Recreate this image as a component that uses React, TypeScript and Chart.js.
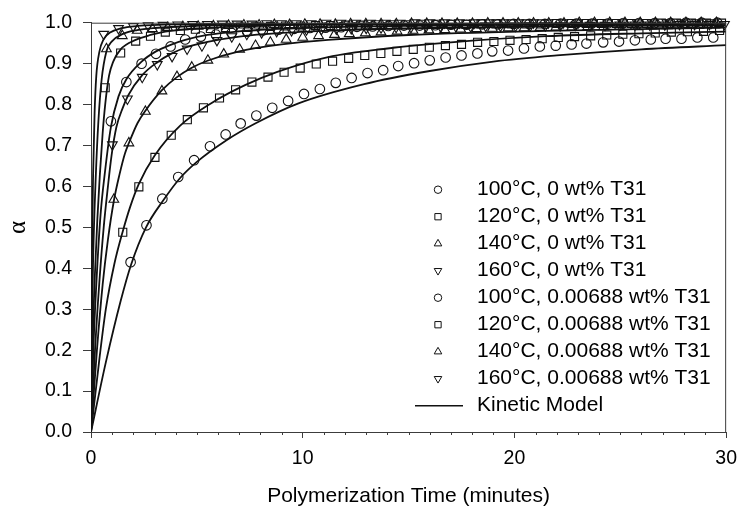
import React, { useEffect, useRef } from "react";
import { Chart, registerables } from "chart.js";

Chart.register(...registerables);

// ---------- labels ----------
const SERIES_LABELS = [
  "100°C, 0 wt% T31",
  "120°C, 0 wt% T31",
  "140°C, 0 wt% T31",
  "160°C, 0 wt% T31",
  "100°C, 0.00688 wt% T31",
  "120°C, 0.00688 wt% T31",
  "140°C, 0.00688 wt% T31",
  "160°C, 0.00688 wt% T31",
];
const MODEL_LABEL = "Kinetic Model";
const X_TITLE = "Polymerization Time (minutes)";
const Y_TITLE = "α";
const X_MINOR_TICKS = [1, 2, 3, 4, 5, 6, 7, 8, 9, 11, 12, 13, 14, 15, 16, 17, 18, 19, 21, 22, 23, 24, 25, 26, 27, 28, 29];

// ---------- experimental data (time in minutes, conversion alpha) ----------
const T_100_0 = [1.87, 2.62, 3.37, 4.12, 4.87, 5.62, 6.36, 7.07, 7.81, 8.56, 9.31, 10.06, 10.81, 11.56, 12.31, 13.06, 13.8, 14.51, 15.26, 16.0, 16.75, 17.5, 18.25, 18.95, 19.7, 20.45, 21.2, 21.95, 22.7, 23.4, 24.19, 24.94, 25.69, 26.44, 27.14, 27.89, 28.64, 29.39];
const A_100_0 = [0.415, 0.505, 0.57, 0.623, 0.664, 0.698, 0.727, 0.754, 0.773, 0.792, 0.809, 0.826, 0.838, 0.853, 0.865, 0.877, 0.884, 0.894, 0.901, 0.908, 0.915, 0.92, 0.925, 0.93, 0.932, 0.937, 0.942, 0.944, 0.947, 0.949, 0.952, 0.954, 0.957, 0.959, 0.961, 0.961, 0.964, 0.964];

const T_120_0 = [1.5, 2.26, 3.02, 3.79, 4.55, 5.31, 6.07, 6.83, 7.6, 8.36, 9.12, 9.88, 10.64, 11.41, 12.17, 12.93, 13.69, 14.45, 15.22, 15.98, 16.74, 17.5, 18.26, 19.03, 19.79, 20.55, 21.31, 22.07, 22.84, 23.6, 24.36, 25.12, 25.88, 26.65, 27.41, 28.17, 28.93, 29.69];
const A_120_0 = [0.488, 0.599, 0.671, 0.725, 0.763, 0.792, 0.816, 0.836, 0.855, 0.867, 0.879, 0.889, 0.899, 0.906, 0.913, 0.92, 0.925, 0.93, 0.935, 0.94, 0.944, 0.947, 0.952, 0.954, 0.957, 0.959, 0.961, 0.964, 0.966, 0.968, 0.97, 0.972, 0.973, 0.975, 0.977, 0.978, 0.979, 0.981];

const T_140_0 = [1.08, 1.79, 2.57, 3.35, 4.06, 4.76, 5.52, 6.27, 7.02, 7.77, 8.47, 9.22, 10.0, 10.75, 11.5, 12.2, 12.96, 13.7, 14.46, 15.21, 15.96, 16.71, 17.46, 18.21, 18.96, 19.71, 20.46, 21.21, 21.96, 22.71, 23.46, 24.21, 24.96, 25.71, 26.46, 27.21, 27.96, 28.71, 29.46];
const A_140_0 = [0.568, 0.706, 0.783, 0.833, 0.868, 0.891, 0.908, 0.923, 0.935, 0.944, 0.952, 0.959, 0.964, 0.968, 0.971, 0.973, 0.975, 0.977, 0.979, 0.981, 0.982, 0.983, 0.984, 0.985, 0.986, 0.987, 0.987, 0.988, 0.989, 0.989, 0.99, 0.99, 0.991, 0.991, 0.992, 0.992, 0.993, 0.993, 0.994];

const T_160_0 = [1.01, 1.72, 2.42, 3.13, 3.83, 4.54, 5.24, 5.95, 6.65, 7.36, 8.06, 8.77, 9.47, 10.18, 10.88, 11.59, 12.29, 13.0, 13.7, 14.41, 15.11, 15.82, 16.52, 17.23, 17.93, 18.64, 19.34, 20.05, 20.75, 21.46, 22.16, 22.87, 23.57, 24.28, 24.98, 25.69, 26.39, 27.1, 27.8, 28.51, 29.21, 29.92];
const A_160_0 = [0.702, 0.814, 0.867, 0.898, 0.918, 0.936, 0.944, 0.957, 0.966, 0.972, 0.976, 0.979, 0.981, 0.983, 0.984, 0.985, 0.986, 0.987, 0.988, 0.989, 0.989, 0.99, 0.99, 0.991, 0.991, 0.992, 0.992, 0.992, 0.993, 0.993, 0.993, 0.994, 0.994, 0.994, 0.995, 0.995, 0.995, 0.995, 0.996, 0.996, 0.996, 0.996];

const T_100_T31 = [0.94, 1.67, 2.39, 3.07, 3.76, 4.45, 5.19, 5.9, 6.64, 7.38, 8.12, 8.86, 9.6, 10.34, 11.08, 11.82, 12.56, 13.3, 14.04, 14.78, 15.52, 16.26, 17.0, 17.74, 18.48, 19.22, 19.96, 20.7, 21.44, 22.18, 22.92, 23.66, 24.4, 25.14, 25.88, 26.62, 27.36, 28.1, 28.84, 29.58];
const A_100_T31 = [0.759, 0.855, 0.9, 0.924, 0.942, 0.959, 0.966, 0.971, 0.975, 0.978, 0.981, 0.983, 0.985, 0.987, 0.988, 0.989, 0.99, 0.991, 0.992, 0.993, 0.993, 0.994, 0.995, 0.995, 0.996, 0.996, 0.997, 0.997, 0.997, 0.998, 0.998, 0.998, 0.998, 0.999, 0.999, 0.999, 0.999, 1.0, 1.0, 1.0];

const T_120_T31 = [0.67, 1.4, 2.11, 2.81, 3.51, 4.22, 4.93, 5.64, 6.35, 7.06, 7.77, 8.48, 9.19, 9.9, 10.61, 11.32, 12.03, 12.74, 13.45, 14.16, 14.87, 15.58, 16.29, 17.0, 17.71, 18.42, 19.13, 19.84, 20.55, 21.26, 21.97, 22.68, 23.39, 24.1, 24.81, 25.52, 26.23, 26.94, 27.65, 28.36, 29.07, 29.78];
const A_120_T31 = [0.841, 0.926, 0.955, 0.967, 0.977, 0.981, 0.984, 0.986, 0.988, 0.989, 0.99, 0.991, 0.992, 0.992, 0.993, 0.993, 0.994, 0.994, 0.995, 0.995, 0.995, 0.996, 0.996, 0.996, 0.996, 0.997, 0.997, 0.997, 0.997, 0.997, 0.998, 0.998, 0.998, 0.998, 0.998, 0.998, 0.998, 0.999, 0.999, 0.999, 0.999, 0.999];

const T_140_T31 = [0.73, 1.48, 2.18, 2.9, 3.62, 4.34, 5.06, 5.78, 6.5, 7.22, 7.94, 8.66, 9.38, 10.1, 10.82, 11.54, 12.26, 12.98, 13.7, 14.42, 15.14, 15.86, 16.58, 17.3, 18.02, 18.74, 19.46, 20.18, 20.9, 21.62, 22.34, 23.06, 23.78, 24.5, 25.22, 25.94, 26.66, 27.38, 28.1, 28.82, 29.54];
const A_140_T31 = [0.936, 0.968, 0.981, 0.985, 0.988, 0.99, 0.991, 0.992, 0.993, 0.994, 0.994, 0.995, 0.995, 0.996, 0.996, 0.996, 0.997, 0.997, 0.997, 0.997, 0.998, 0.998, 0.998, 0.998, 0.998, 0.999, 0.999, 0.999, 0.999, 0.999, 0.999, 1.0, 1.0, 1.0, 1.0, 1.0, 1.0, 1.0, 1.0, 1.0, 1.0];

const T_160_T31 = [0.6, 1.3, 2.0, 2.7, 3.4, 4.1, 4.8, 5.5, 6.2, 6.9, 7.6, 8.3, 9.0, 9.7, 10.4, 11.1, 11.8, 12.5, 13.2, 13.9, 14.6, 15.3, 16.0, 16.7, 17.4, 18.1, 18.8, 19.5, 20.2, 20.9, 21.6, 22.3, 23.0, 23.7, 24.4, 25.1, 25.8, 26.5, 27.2, 27.9, 28.6, 29.3];
const A_160_T31 = [0.972, 0.986, 0.991, 0.993, 0.994, 0.995, 0.996, 0.996, 0.997, 0.997, 0.997, 0.998, 0.998, 0.998, 0.998, 0.999, 0.999, 0.999, 0.999, 0.999, 0.999, 1.0, 1.0, 1.0, 1.0, 1.0, 1.0, 1.0, 1.0, 1.0, 1.0, 1.0, 1.0, 1.0, 1.0, 1.0, 1.0, 1.0, 1.0, 1.0, 1.0, 1.0];

// ---------- kinetic model curves ----------
const KM_T_100_0 = [0, 0.7, 1.4, 1.9, 2.6, 3.4, 4.2, 5.0, 6.4, 7.8, 9.8, 12.9, 16, 19, 22, 26, 30];
const KM_A_100_0 = [0, 0.17, 0.32, 0.41, 0.5, 0.565, 0.62, 0.66, 0.713, 0.755, 0.803, 0.85, 0.882, 0.905, 0.92, 0.935, 0.945];

const KM_T_120_0 = [0, 0.4, 0.7, 1.1, 1.5, 1.85, 2.25, 3.0, 4.2, 5.7, 7.3, 8.8, 11.2, 14, 17, 21.5, 26, 30];
const KM_A_120_0 = [0, 0.18, 0.3, 0.41, 0.49, 0.55, 0.605, 0.675, 0.748, 0.804, 0.848, 0.88, 0.916, 0.937, 0.952, 0.967, 0.974, 0.978];

const KM_T_140_0 = [0, 0.28, 0.55, 0.8, 1.08, 1.35, 1.6, 1.79, 2.2, 2.57, 3.35, 4.06, 4.76, 5.5, 7, 9, 11.2, 15, 21.5, 30];
const KM_A_140_0 = [0, 0.2, 0.36, 0.47, 0.565, 0.63, 0.68, 0.706, 0.755, 0.785, 0.835, 0.867, 0.89, 0.907, 0.93, 0.947, 0.958, 0.97, 0.98, 0.988];

const KM_T_160_0 = [0, 0.19, 0.4, 0.6, 0.8, 0.97, 1.2, 1.5, 1.75, 2.42, 3.12, 3.82, 4.52, 5.5, 7, 9, 12, 16, 22, 30];
const KM_A_160_0 = [0, 0.2, 0.37, 0.5, 0.6, 0.675, 0.745, 0.792, 0.822, 0.872, 0.903, 0.925, 0.94, 0.953, 0.966, 0.975, 0.982, 0.987, 0.991, 0.994];

const KM_T_100_T31 = [0, 0.11, 0.25, 0.45, 0.67, 0.94, 1.3, 1.67, 2.39, 3.07, 3.76, 4.45, 5.5, 7, 9, 12, 18, 30];
const KM_A_100_T31 = [0, 0.2, 0.36, 0.53, 0.64, 0.745, 0.82, 0.862, 0.905, 0.93, 0.946, 0.958, 0.97, 0.979, 0.985, 0.99, 0.994, 0.997];

const KM_T_120_T31 = [0, 0.07, 0.18, 0.3, 0.42, 0.55, 0.67, 0.85, 1.05, 1.4, 2.11, 2.81, 3.51, 5, 7, 10, 15, 30];
const KM_A_120_T31 = [0, 0.2, 0.38, 0.52, 0.63, 0.73, 0.8, 0.87, 0.905, 0.935, 0.958, 0.97, 0.978, 0.986, 0.991, 0.995, 0.997, 0.999];

const KM_T_140_T31 = [0, 0.03, 0.1, 0.23, 0.35, 0.5, 0.73, 1, 1.48, 2.18, 3, 5, 10, 30];
const KM_A_140_T31 = [0, 0.2, 0.42, 0.63, 0.76, 0.86, 0.93, 0.955, 0.972, 0.982, 0.987, 0.992, 0.996, 0.999];

const KM_T_160_T31 = [0, 0.015, 0.05, 0.1, 0.17, 0.25, 0.4, 0.6, 0.9, 1.4, 2.2, 4, 10, 30];
const KM_A_160_T31 = [0, 0.2, 0.45, 0.63, 0.78, 0.87, 0.93, 0.96, 0.976, 0.986, 0.992, 0.996, 0.998, 1.0];

// ---------- styling ----------
const FONT = "'Liberation Sans', Arial, Helvetica, sans-serif";
const SERIF = "'Liberation Serif', 'DejaVu Serif', serif";
const AXIS_COLOR = "#3c3c3c";
const INK = "#111111";

type Marker = { t: number[]; a: number[]; style: string; rotation: number; radius: number };

const MARKERS: Marker[] = [
  { t: T_100_0, a: A_100_0, style: "circle", rotation: 0, radius: 4.8 },
  { t: T_120_0, a: A_120_0, style: "rect", rotation: 0, radius: 5.7 },
  { t: T_140_0, a: A_140_0, style: "triangle", rotation: 0, radius: 5.6 },
  { t: T_160_0, a: A_160_0, style: "triangle", rotation: 180, radius: 5.6 },
  { t: T_100_T31, a: A_100_T31, style: "circle", rotation: 0, radius: 4.8 },
  { t: T_120_T31, a: A_120_T31, style: "rect", rotation: 0, radius: 5.7 },
  { t: T_140_T31, a: A_140_T31, style: "triangle", rotation: 0, radius: 5.6 },
  { t: T_160_T31, a: A_160_T31, style: "triangle", rotation: 180, radius: 5.6 },
];

const MODELS = [
  [KM_T_100_0, KM_A_100_0],
  [KM_T_120_0, KM_A_120_0],
  [KM_T_140_0, KM_A_140_0],
  [KM_T_160_0, KM_A_160_0],
  [KM_T_100_T31, KM_A_100_T31],
  [KM_T_120_T31, KM_A_120_T31],
  [KM_T_140_T31, KM_A_140_T31],
  [KM_T_160_T31, KM_A_160_T31],
];

const zip = (t: number[], a: number[]) => t.map((x, i) => ({ x, y: a[i] }));

function drawMarker(ctx: CanvasRenderingContext2D, style: string, rotation: number, r: number, x: number, y: number) {
  ctx.beginPath();
  if (style === "circle") {
    ctx.arc(x, y, r, 0, Math.PI * 2);
  } else if (style === "rect") {
    const s = Math.SQRT1_2 * r;
    ctx.rect(x - s, y - s, 2 * s, 2 * s);
  } else {
    let rad = (rotation * Math.PI) / 180;
    for (let k = 0; k < 3; k++) {
      const px = x + Math.sin(rad) * r;
      const py = y - Math.cos(rad) * r;
      if (k === 0) ctx.moveTo(px, py);
      else ctx.lineTo(px, py);
      rad += (2 * Math.PI) / 3;
    }
    ctx.closePath();
  }
  ctx.stroke();
}

const framePlugin = {
  id: "frameAndMinorTicks",
  afterDraw(chart: any) {
    const { ctx, chartArea: ca, scales } = chart;
    const xs = scales.x;
    ctx.save();
    ctx.strokeStyle = AXIS_COLOR;
    ctx.lineWidth = 1;
    ctx.beginPath();
    ctx.moveTo(ca.left, ca.top + 0.5);
    ctx.lineTo(ca.right, ca.top + 0.5);
    ctx.moveTo(ca.right - 0.5, ca.top);
    ctx.lineTo(ca.right - 0.5, ca.bottom);
    for (const v of X_MINOR_TICKS) {
      const px = Math.round(xs.getPixelForValue(v)) + 0.5;
      ctx.moveTo(px, ca.bottom);
      ctx.lineTo(px, ca.bottom + 3);
    }
    ctx.stroke();
    ctx.restore();
  },
};

const legendPlugin = {
  id: "insetLegend",
  afterDraw(chart: any) {
    const { ctx, chartArea: ca } = chart;
    const markerX = ca.left + 347;
    const textX = ca.left + 386;
    const y0 = ca.top + 167;
    const rowH = 27;
    ctx.save();
    ctx.font = `21px ${FONT}`;
    ctx.textBaseline = "middle";
    ctx.textAlign = "left";
    ctx.fillStyle = "#000";
    ctx.strokeStyle = INK;
    ctx.lineWidth = 1;
    SERIES_LABELS.forEach((label, i) => {
      const m = MARKERS[i];
      const y = y0 + i * rowH;
      drawMarker(ctx, m.style, m.rotation, m.radius * 0.78, markerX, y);
      ctx.fillText(label, textX, y);
    });
    const yk = y0 + SERIES_LABELS.length * rowH;
    ctx.lineWidth = 1.6;
    ctx.beginPath();
    ctx.moveTo(markerX - 23, yk);
    ctx.lineTo(markerX + 25, yk);
    ctx.stroke();
    ctx.fillText(MODEL_LABEL, textX, yk);
    ctx.restore();
  },
};

export default function App() {
  const ref = useRef<HTMLCanvasElement | null>(null);

  useEffect(() => {
    if (!ref.current) return;
    const lineSets = MODELS.map(([t, a]) => ({
      label: MODEL_LABEL,
      data: zip(t, a),
      showLine: true,
      borderColor: INK,
      borderWidth: 1.8,
      pointRadius: 0,
      pointHoverRadius: 0,
      fill: false,
      cubicInterpolationMode: "monotone" as const,
    }));
    const markerSets = MARKERS.map((m, i) => ({
      label: SERIES_LABELS[i],
      data: zip(m.t, m.a),
      showLine: false,
      pointStyle: m.style,
      pointRotation: m.rotation,
      pointRadius: m.radius,
      pointBorderWidth: 1.1,
      pointBorderColor: INK,
      pointBackgroundColor: "rgba(0,0,0,0)",
      borderColor: INK,
      backgroundColor: "rgba(0,0,0,0)",
      clip: false as any,
    }));

    const chart = new Chart(ref.current, {
      type: "scatter",
      data: { datasets: [...lineSets, ...markerSets] as any },
      options: {
        animation: false,
        responsive: false,
        devicePixelRatio: 1,
        layout: { padding: { left: 0, top: 19, right: 14, bottom: 0 } },
        plugins: { legend: { display: false }, tooltip: { enabled: false } },
        scales: {
          x: {
            type: "linear",
            min: 0,
            max: 30,
            ticks: {
              stepSize: 10,
              padding: 9,
              color: "#000",
              font: { family: FONT, size: 19.5 },
              callback: (v: any) => String(v),
            },
            grid: { drawOnChartArea: false, drawTicks: true, tickLength: 6, tickColor: AXIS_COLOR, tickWidth: 1 },
            border: { display: true, color: AXIS_COLOR, width: 1 },
            title: {
              display: true,
              text: X_TITLE,
              color: "#000",
              font: { family: FONT, size: 21 },
              padding: { top: 0, bottom: 0 },
            },
            afterFit: (s: any) => {
              s.height = 77;
            },
          },
          y: {
            type: "linear",
            min: 0,
            max: 1,
            ticks: {
              stepSize: 0.1,
              padding: 11,
              color: "#000",
              font: { family: FONT, size: 19.5 },
              callback: (v: any) => Number(v).toFixed(1),
            },
            grid: { drawOnChartArea: false, drawTicks: true, tickLength: 8, tickColor: AXIS_COLOR, tickWidth: 1 },
            border: { display: true, color: AXIS_COLOR, width: 1 },
            title: {
              display: true,
              text: Y_TITLE,
              color: "#000",
              font: { family: SERIF, size: 25 },
              padding: { top: 3, bottom: 0 },
            },
            afterFit: (s: any) => {
              s.width = 91;
            },
          },
        },
      },
      plugins: [framePlugin, legendPlugin],
    });
    return () => chart.destroy();
  }, []);

  return (
    <div style={{ position: "fixed", left: 0, top: 0, width: 746, height: 509, background: "#fff" }}>
      <canvas ref={ref} width={746} height={509} style={{ display: "block", width: 746, height: 509 }} />
    </div>
  );
}
